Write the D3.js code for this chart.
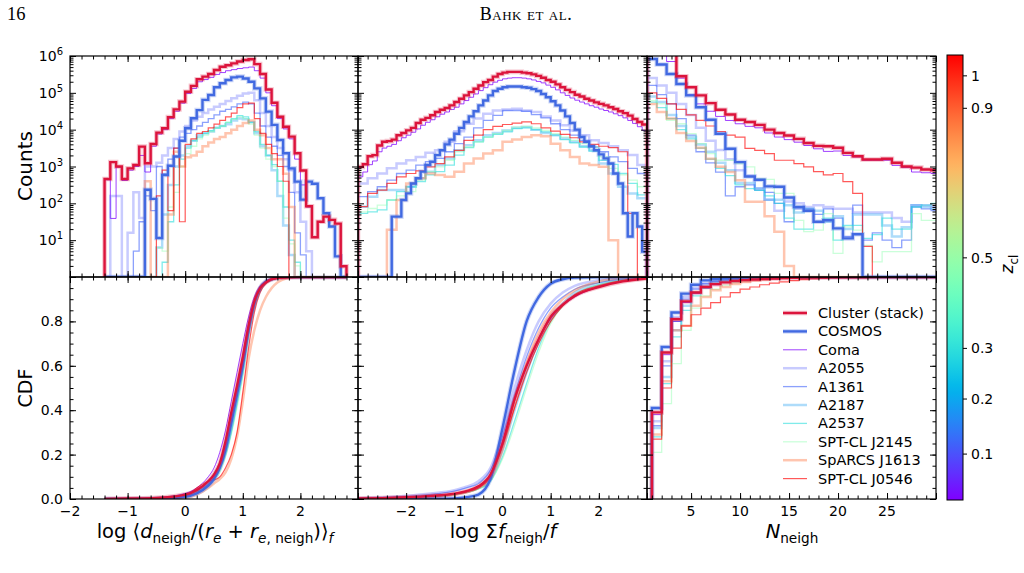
<!DOCTYPE html>
<html>
<head>
<meta charset="utf-8">
<script src="https://cdn.jsdelivr.net/npm/d3@7"></script>
<style>
body { margin: 0; background: #fff; }
text { font-family: "DejaVu Sans", sans-serif; fill: #000; }
</style>
</head>
<body>
<script>
// clusters, coloured by redshift
var clusterNames = ["Coma", "A2055", "A1361", "A2187", "A2537", "SPT-CL J2145", "SpARCS J1613", "SPT-CL J0546"];
var clusterZ = [0.023, 0.102, 0.117, 0.183, 0.295, 0.48, 0.871, 1.067];
var zTicks = [0.1, 0.2, 0.3, 0.5, 0.9, 1];

// tick labels
var distTicks = [-2, -1, 0, 1, 2];
var fluxTicks = [-2, -1, 0, 1, 2];
var nTicks = [5, 10, 15, 20, 25];
var countExp = [1, 2, 3, 4, 5, 6];
var cdfTicks = [0, 0.2, 0.4, 0.6, 0.8];

// ---- histograms, log10(counts) per bin (0 = empty bin) ----
// log <d_neigh/(r_e+r_e,neigh)>_f : 0.1 wide bins starting at -1.4
var distStart = -1.4;
var distCluster = [2.66, 3.12, 3.0, 2.66, 2.95, 3.04, 3.54, 3.09, 3.61, 3.92, 4.04, 4.34, 4.55, 4.76, 5.03, 5.19, 5.37, 5.44, 5.51, 5.62, 5.71, 5.75, 5.80, 5.85, 5.89, 5.91, 5.78, 5.51, 5.09, 4.73, 4.35, 4.08, 3.81, 3.36, 2.89, 1.92, 1.08, 1.5, 1.64, 1.55, 1.45, 0.29];
var distCosmos = [0, 0, 0, 0, 0, 0, 0, 2.37, 2.12, 1.06, 2.77, 3.02, 3.27, 3.70, 4.04, 4.31, 4.53, 4.81, 4.94, 5.15, 5.26, 5.35, 5.42, 5.44, 5.39, 5.30, 5.12, 4.85, 4.49, 4.13, 3.72, 3.36, 2.95, 2.59, 2.10, 2.59, 2.53, 2.14, 1.73, 1.37, 0.56, 0];
var distOthers = [
  [2.64, 1.59, 2.98, 2.62, 2.9, 3.0, 3.3, 2.85, 3.55, 3.88, 4.0, 4.3, 4.5, 4.72, 4.98, 5.12, 5.3, 5.36, 5.42, 5.5, 5.55, 5.6, 5.63, 5.66, 5.68, 5.7, 5.6, 5.4, 5.0, 4.65, 4.3, 4.02, 3.75, 3.2, 2.5, 1.9, 1.08, 1.5, 1.64, 1.55, 1.45, 0.29],
  [0, 2.2, 2.2, 0, 1.2, 2.3, 1.6, 3.0, 3.0, 3.1, 3.3, 3.5, 3.75, 3.95, 4.1, 4.25, 4.35, 4.45, 4.55, 4.62, 4.7, 4.78, 4.85, 4.92, 4.98, 5.0, 4.8, 4.45, 4.1, 3.8, 3.5, 3.2, 2.9, 2.3, 1.5, 0.7, 0, 0, 0, 0, 0, 0],
  [0, 0, 0, 0, 0, 0.7, 1.5, 2.2, 1.8, 3.0, 2.8, 3.2, 3.5, 3.8, 3.9, 4.0, 4.1, 4.2, 4.3, 4.4, 4.5, 4.55, 4.62, 4.7, 4.75, 4.7, 4.45, 4.1, 3.8, 3.55, 3.3, 3.0, 2.3, 1.2, 0.6, 0, 0, 0, 0, 0, 0, 0],
  [0, 0, 0, 0, 0, 0, 0, 0, 0, 0.8, 1.7, 2.5, 3.0, 3.3, 3.55, 3.7, 3.85, 3.9, 3.95, 4.05, 4.1, 4.15, 4.25, 4.3, 4.28, 4.2, 3.9, 3.55, 3.3, 2.9, 2.2, 1.4, 0.6, 0, 0, 0, 0, 0, 0, 0, 0, 0],
  [0, 0, 0, 0, 0, 0, 0, 0, 0, 0, 0.4, 1.5, 2.5, 3.2, 3.5, 3.7, 3.8, 3.9, 3.97, 4.05, 4.1, 4.2, 4.3, 4.38, 4.35, 4.2, 3.95, 3.6, 3.3, 3.05, 2.6, 1.9, 1.0, 0.4, 0, 0, 0, 0, 0, 0, 0, 0],
  [0, 0, 0, 0, 0, 0, 0, 0, 0, 0.8, 0.7, 1.9, 2.3, 3.0, 3.35, 3.55, 3.75, 3.85, 3.95, 4.05, 4.1, 4.2, 4.28, 4.35, 4.3, 4.15, 3.85, 3.5, 3.2, 3.0, 2.6, 1.6, 0.9, 0.3, 0, 0, 0, 0, 0, 0, 0, 0],
  [0, 0, 0, 0, 0, 0, 0, 2.6, 0, 0, 0, 1.7, 3.4, 3.0, 3.25, 3.3, 3.4, 3.55, 3.65, 3.75, 3.8, 3.9, 4.0, 4.1, 4.18, 4.25, 4.0, 3.85, 3.5, 3.2, 3.2, 2.8, 1.9, 0, 0, 0, 0, 0, 0, 0, 0, 0],
  [0, 0, 0, 0, 0, 0, 0, 0, 0, 2.2, 2.9, 1.8, 3.5, 1.5, 3.6, 3.75, 3.9, 3.95, 4.05, 4.15, 4.25, 4.35, 4.45, 4.6, 4.7, 4.72, 4.3, 3.9, 3.6, 3.35, 3.0, 2.6, 0, 0, 0, 0, 0, 0, 0, 0, 0, 0]
];

// log Sum f_neigh / f : bins cover -3..3 (60 bins, or 30 for the thin cluster lines)
var fluxCluster = [2.99, 3.06, 3.28, 3.31, 3.57, 3.67, 3.69, 3.73, 3.85, 3.91, 3.98, 4.05, 4.18, 4.27, 4.32, 4.39, 4.48, 4.54, 4.59, 4.66, 4.75, 4.84, 4.93, 5.02, 5.11, 5.20, 5.29, 5.35, 5.44, 5.51, 5.55, 5.57, 5.57, 5.57, 5.55, 5.53, 5.50, 5.46, 5.41, 5.35, 5.30, 5.23, 5.15, 5.08, 5.02, 4.95, 4.90, 4.84, 4.79, 4.74, 4.70, 4.66, 4.61, 4.56, 4.50, 4.45, 4.38, 4.29, 4.21, 4.14];
var fluxCosmos = [0, 0, 0, 0, 0, 0, 0, 1.64, 1.64, 2.09, 2.27, 2.54, 2.68, 2.86, 3.04, 3.13, 3.31, 3.44, 3.60, 3.73, 3.89, 4.05, 4.21, 4.36, 4.50, 4.66, 4.79, 4.93, 5.05, 5.11, 5.15, 5.17, 5.17, 5.17, 5.15, 5.14, 5.10, 5.05, 4.97, 4.88, 4.77, 4.66, 4.52, 4.36, 4.18, 4.0, 3.80, 3.67, 3.55, 3.44, 3.33, 3.22, 3.08, 2.81, 2.54, 1.73, 1.10, 1.73, 1.37, 0.69];
var fluxOthers = [
  [2.72, 2.85, 3.05, 3.15, 3.4, 3.5, 3.55, 3.6, 3.7, 3.78, 3.85, 3.93, 4.02, 4.12, 4.2, 4.27, 4.35, 4.42, 4.48, 4.55, 4.61, 4.7, 4.79, 4.88, 4.97, 5.06, 5.14, 5.22, 5.29, 5.34, 5.38, 5.4, 5.41, 5.41, 5.4, 5.38, 5.35, 5.31, 5.27, 5.21, 5.15, 5.08, 5.0, 4.93, 4.86, 4.8, 4.75, 4.7, 4.65, 4.61, 4.56, 4.52, 4.48, 4.43, 4.38, 4.32, 4.25, 4.17, 4.08, 3.98],
  [2.54, 2.68, 2.81, 2.95, 3.08, 3.17, 3.26, 3.37, 3.44, 3.67, 3.96, 4.16, 4.30, 4.43, 4.52, 4.55, 4.57, 4.52, 4.48, 4.36, 4.25, 4.12, 3.98, 3.85, 3.71, 3.64, 3.55, 3.44, 3.31, 3.04],
  [2.18, 2.32, 2.45, 2.63, 2.81, 2.90, 3.04, 3.13, 3.22, 3.40, 3.62, 3.80, 4.05, 4.25, 4.39, 4.52, 4.52, 4.50, 4.41, 4.32, 4.16, 4.0, 3.85, 3.71, 3.53, 3.40, 3.26, 3.13, 2.95, 2.81],
  [1.91, 2.18, 2.36, 2.36, 2.36, 2.45, 2.68, 2.86, 3.04, 3.22, 3.44, 3.58, 3.71, 3.85, 3.91, 3.98, 4.05, 4.07, 4.0, 3.91, 3.85, 3.76, 3.67, 3.55, 3.44, 3.08, 2.81, 2.45, 2.27, 2.14],
  [1.73, 1.77, 1.82, 2.09, 2.32, 2.45, 2.59, 2.77, 2.86, 3.04, 3.31, 3.51, 3.67, 3.80, 3.87, 3.94, 4.03, 4.05, 4.0, 3.94, 3.85, 3.73, 3.64, 3.53, 3.42, 3.17, 3.06, 2.81, 2.54, 2.23],
  [1.77, 1.86, 1.95, 2.09, 2.20, 2.32, 2.63, 2.86, 2.99, 3.17, 3.40, 3.53, 3.67, 3.80, 3.89, 3.98, 4.07, 4.09, 4.05, 3.98, 3.89, 3.80, 3.71, 3.62, 3.53, 3.26, 2.95, 2.77, 2.63, 2.45],
  [0, 0, 0, 1.28, 2.09, 2.54, 2.68, 2.81, 2.77, 2.72, 2.86, 3.08, 3.22, 3.35, 3.44, 3.67, 3.73, 3.80, 3.85, 3.82, 3.62, 3.44, 3.26, 3.08, 3.04, 2.99, 1.0, 0, 0, 0],
  [1.91, 2.27, 2.36, 2.54, 2.72, 2.81, 2.88, 2.99, 3.08, 3.26, 3.44, 3.71, 3.85, 4.0, 4.09, 4.14, 4.18, 4.21, 4.16, 4.05, 3.96, 3.87, 3.78, 3.67, 3.60, 3.55, 3.51, 3.40, 1.73, 0]
];

// N_neigh = 1..30
var nCluster = [6.4, 6.2, 6.05, 5.45, 5.15, 4.93, 4.72, 4.54, 4.41, 4.27, 4.21, 4.13, 4.0, 3.91, 3.84, 3.75, 3.64, 3.56, 3.55, 3.51, 3.37, 3.28, 3.19, 3.19, 3.21, 3.10, 3.0, 2.97, 2.92, 2.90];
var nCosmos = [5.92, 5.77, 5.51, 5.24, 4.93, 4.61, 4.27, 3.89, 3.48, 3.12, 2.73, 2.64, 2.46, 2.45, 2.16, 1.90, 1.80, 1.50, 1.54, 1.32, 1.05, 1.16, 0, 0, 0, 0, 0, 0, 0, 0];
var nOthers = [
  [6.35, 6.1, 5.85, 5.40, 4.95, 4.70, 4.50, 4.36, 4.25, 4.16, 4.09, 4.05, 3.91, 3.80, 3.73, 3.66, 3.57, 3.48, 3.41, 3.42, 3.30, 3.26, 3.17, 3.17, 3.17, 3.03, 2.97, 2.85, 2.83, 2.81],
  [5.4, 5.2, 5.0, 4.7, 4.4, 4.05, 3.7, 3.45, 3.2, 2.9, 2.75, 2.4, 2.1, 1.8, 2.05, 2.0, 1.9, 1.95, 1.9, 1.85, 1.85, 1.75, 1.75, 1.75, 1.75, 1.6, 1.5, 1.95, 1.95, 1.9],
  [5.2, 4.95, 4.7, 4.3, 3.85, 3.4, 3.1, 2.85, 2.2, 2.45, 2.5, 2.35, 2.3, 2.0, 1.5, 1.85, 1.85, 1.7, 1.85, 1.6, 1.1, 1.95, 1.0, 1.2, 1.0, 0.8, 1.0, 1.9, 1.85, 1.8],
  [4.9, 4.75, 4.4, 4.1, 3.8, 3.6, 3.4, 3.1, 2.9, 2.55, 2.55, 2.4, 2.1, 2.1, 1.95, 1.75, 1.85, 1.8, 1.5, 1.65, 1.3, 1.7, 1.7, 1.7, 1.4, 1.1, 1.35, 1.95, 1.9, 1.85],
  [4.75, 4.6, 4.3, 4.0, 3.75, 3.5, 3.2, 2.95, 2.75, 2.5, 2.4, 2.35, 2.2, 2.0, 1.6, 1.3, 1.3, 1.5, 1.6, 1.0, 1.4, 1.4, 1.05, 1.15, 1.6, 1.3, 1.3, 1.9, 1.95, 2.0],
  [4.79, 4.70, 4.25, 4.16, 3.89, 3.62, 3.35, 3.17, 3.17, 3.08, 2.99, 2.67, 2.65, 2.27, 2.27, 1.54, 1.23, 1.27, 1.72, 0.64, 1.36, 1.27, 0.86, 0.41, 0.69, 0.69, 0.69, 1.72, 1.54, 1.54],
  [4.70, 4.48, 4.30, 3.91, 3.69, 3.51, 3.21, 2.99, 2.85, 2.63, 2.04, 2.04, 1.65, 1.23, 0.30, 0, 0, 0, 0, 0, 0, 0, 0, 0, 0, 0, 0, 0, 0, 0],
  [5.0, 4.85, 4.7, 4.55, 4.4, 4.25, 4.1, 3.95, 3.85, 3.80, 3.49, 3.44, 3.35, 3.17, 3.17, 3.08, 2.99, 2.86, 2.77, 2.81, 2.59, 2.27, 0.83, 0, 0, 0, 0, 0, 0, 0]
];

// ---- cumulative distributions ----
var cdfDistX = [-1.4, -1.0, -0.5, 0, 0.2, 0.4, 0.5, 0.6, 0.7, 0.8, 0.9, 1.0, 1.1, 1.2, 1.3, 1.4, 1.5, 1.6, 1.8, 2.0, 2.8];
var cdfDistCluster = [0, 0.002, 0.005, 0.02, 0.04, 0.08, 0.11, 0.16, 0.26, 0.39, 0.51, 0.64, 0.78, 0.89, 0.95, 0.975, 0.99, 0.995, 0.999, 1, 1];
var cdfDistCosmos = [0, 0, 0.001, 0.01, 0.025, 0.06, 0.09, 0.14, 0.22, 0.34, 0.47, 0.60, 0.76, 0.88, 0.95, 0.98, 0.99, 0.997, 1, 1, 1];
var cdfDistOthers = [
  [0, 0.002, 0.006, 0.025, 0.05, 0.10, 0.14, 0.21, 0.31, 0.44, 0.57, 0.70, 0.82, 0.91, 0.96, 0.98, 0.99, 0.996, 0.999, 1, 1],
  [0, 0.001, 0.004, 0.02, 0.04, 0.08, 0.11, 0.16, 0.25, 0.37, 0.50, 0.63, 0.78, 0.89, 0.95, 0.98, 0.99, 0.996, 1, 1, 1],
  [0, 0, 0.003, 0.015, 0.035, 0.07, 0.10, 0.15, 0.23, 0.35, 0.48, 0.62, 0.77, 0.88, 0.95, 0.98, 0.99, 0.996, 1, 1, 1],
  [0, 0, 0.002, 0.012, 0.03, 0.065, 0.095, 0.14, 0.21, 0.32, 0.45, 0.59, 0.75, 0.87, 0.94, 0.975, 0.99, 0.996, 1, 1, 1],
  [0, 0, 0.002, 0.01, 0.03, 0.06, 0.09, 0.13, 0.20, 0.30, 0.43, 0.57, 0.74, 0.87, 0.94, 0.975, 0.99, 0.996, 1, 1, 1],
  [0, 0, 0.002, 0.01, 0.03, 0.06, 0.085, 0.12, 0.19, 0.29, 0.41, 0.55, 0.73, 0.86, 0.94, 0.975, 0.99, 0.996, 1, 1, 1],
  [0, 0, 0.001, 0.005, 0.02, 0.05, 0.07, 0.09, 0.12, 0.18, 0.28, 0.44, 0.63, 0.76, 0.85, 0.91, 0.95, 0.975, 0.995, 1, 1],
  [0, 0, 0.001, 0.008, 0.05, 0.08, 0.085, 0.10, 0.14, 0.20, 0.30, 0.48, 0.68, 0.84, 0.93, 0.97, 0.985, 0.995, 1, 1, 1]
];

var cdfFluxX = [-3, -2.5, -2, -1.5, -1, -0.75, -0.5, -0.25, 0, 0.25, 0.5, 0.75, 1.0, 1.25, 1.5, 2.0, 2.5, 3];
var cdfFluxCluster = [0.002, 0.004, 0.008, 0.014, 0.024, 0.035, 0.057, 0.11, 0.25, 0.45, 0.60, 0.72, 0.82, 0.875, 0.915, 0.955, 0.98, 0.993];
var cdfFluxCosmos = [0, 0, 0, 0.001, 0.003, 0.008, 0.02, 0.09, 0.32, 0.58, 0.80, 0.91, 0.97, 0.99, 0.997, 1, 1, 1];
var cdfFluxOthers = [
  [0.002, 0.004, 0.008, 0.014, 0.024, 0.034, 0.055, 0.11, 0.26, 0.44, 0.60, 0.72, 0.81, 0.87, 0.91, 0.955, 0.982, 0.994],
  [0.003, 0.008, 0.015, 0.025, 0.04, 0.055, 0.08, 0.14, 0.30, 0.50, 0.67, 0.80, 0.88, 0.93, 0.96, 0.985, 0.995, 1],
  [0.002, 0.006, 0.012, 0.02, 0.035, 0.05, 0.07, 0.13, 0.28, 0.47, 0.64, 0.77, 0.86, 0.91, 0.945, 0.975, 0.99, 0.998],
  [0.001, 0.003, 0.006, 0.012, 0.022, 0.033, 0.05, 0.09, 0.22, 0.40, 0.57, 0.71, 0.82, 0.88, 0.93, 0.97, 0.99, 0.998],
  [0.001, 0.002, 0.005, 0.01, 0.02, 0.03, 0.045, 0.08, 0.19, 0.35, 0.52, 0.68, 0.80, 0.87, 0.92, 0.965, 0.985, 0.996],
  [0.001, 0.002, 0.005, 0.01, 0.02, 0.03, 0.045, 0.08, 0.18, 0.33, 0.50, 0.66, 0.79, 0.87, 0.92, 0.965, 0.985, 0.996],
  [0, 0.001, 0.004, 0.01, 0.02, 0.03, 0.05, 0.09, 0.22, 0.42, 0.61, 0.75, 0.84, 0.9, 0.94, 0.98, 0.995, 1],
  [0.001, 0.003, 0.006, 0.012, 0.022, 0.033, 0.05, 0.10, 0.24, 0.41, 0.57, 0.70, 0.80, 0.87, 0.92, 0.96, 0.985, 0.996]
];

// N_neigh = 1..30
var cdfNCluster = [0.39, 0.66, 0.81, 0.89, 0.93, 0.955, 0.968, 0.976, 0.982, 0.986, 0.989, 0.991, 0.993, 0.995, 0.996, 0.997, 0.998, 0.998, 0.999, 0.999, 0.999, 0.999, 1, 1, 1, 1, 1, 1, 1, 1];
var cdfNCosmos = [0.41, 0.685, 0.84, 0.925, 0.965, 0.985, 0.99, 0.994, 0.996, 0.998, 0.999, 0.999, 1, 1, 1, 1, 1, 1, 1, 1, 1, 1, 1, 1, 1, 1, 1, 1, 1, 1];
var cdfNOthers = [
  [0.38, 0.65, 0.80, 0.885, 0.925, 0.95, 0.965, 0.975, 0.98, 0.985, 0.988, 0.99, 0.992, 0.994, 0.995, 0.996, 0.997, 0.998, 0.998, 0.999, 0.999, 0.999, 1, 1, 1, 1, 1, 1, 1, 1],
  [0.35, 0.62, 0.82, 0.91, 0.95, 0.97, 0.98, 0.986, 0.99, 0.993, 0.995, 0.996, 0.997, 0.998, 0.998, 0.999, 0.999, 0.999, 0.999, 1, 1, 1, 1, 1, 1, 1, 1, 1, 1, 1],
  [0.33, 0.60, 0.80, 0.90, 0.945, 0.97, 0.98, 0.987, 0.99, 0.993, 0.995, 0.996, 0.997, 0.998, 0.998, 0.999, 0.999, 0.999, 1, 1, 1, 1, 1, 1, 1, 1, 1, 1, 1, 1],
  [0.32, 0.55, 0.76, 0.87, 0.93, 0.96, 0.975, 0.984, 0.989, 0.992, 0.994, 0.996, 0.997, 0.998, 0.998, 0.999, 0.999, 0.999, 1, 1, 1, 1, 1, 1, 1, 1, 1, 1, 1, 1],
  [0.28, 0.52, 0.73, 0.85, 0.915, 0.95, 0.968, 0.978, 0.985, 0.99, 0.993, 0.995, 0.996, 0.997, 0.998, 0.999, 0.999, 0.999, 1, 1, 1, 1, 1, 1, 1, 1, 1, 1, 1, 1],
  [0.21, 0.43, 0.61, 0.76, 0.86, 0.915, 0.945, 0.963, 0.975, 0.983, 0.988, 0.991, 0.994, 0.996, 0.997, 0.998, 0.999, 0.999, 1, 1, 1, 1, 1, 1, 1, 1, 1, 1, 1, 1],
  [0.29, 0.53, 0.76, 0.78, 0.87, 0.91, 0.94, 0.955, 0.968, 0.977, 0.984, 0.989, 0.993, 0.996, 0.998, 0.999, 1, 1, 1, 1, 1, 1, 1, 1, 1, 1, 1, 1, 1, 1],
  [0.27, 0.50, 0.68, 0.78, 0.83, 0.86, 0.885, 0.91, 0.93, 0.945, 0.955, 0.965, 0.972, 0.978, 0.984, 0.988, 0.991, 0.994, 0.996, 0.997, 0.998, 0.999, 1, 1, 1, 1, 1, 1, 1, 1]
];

// ---------------------------------------------------------------------------

var svg = d3.select("body").append("svg")
    .attr("width", 1024)
    .attr("height", 573);
svg.append("rect").attr("width", 1024).attr("height", 573).attr("fill", "#fff");

var xDist = d3.scaleLinear().domain([-2, 3]).range([70, 358]);
var xFlux = d3.scaleLinear().domain([-3, 3]).range([358, 647]);
var xN = d3.scaleLinear().domain([0.5, 30]).range([647, 936]);
var yCount = d3.scaleLog().domain([1, 1e6]).range([277, 56]);
var yCdf = d3.scaleLinear().domain([0, 1]).range([499, 277]);

// matplotlib "rainbow", colour linear in log(1+z)
var zExtent = d3.extent(clusterZ);
var zNorm = d3.scaleLinear().domain([Math.log1p(zExtent[0]), Math.log1p(zExtent[1])]).range([0, 1]);
function rainbow(t) {
  var r = Math.min(1, Math.abs(2 * t - 0.5)),
      g = Math.sin(Math.PI * t),
      b = Math.cos(Math.PI * t / 2);
  return d3.rgb(r * 255, g * 255, b * 255).formatHex();
}
function zColor(z) { return rainbow(zNorm(Math.log1p(z))); }

var otherWidth = [1, 2.5, 1.3, 2.5, 1.3, 1.3, 2.5, 1.2];
var otherAlpha = [0.75, 0.3, 0.6, 0.35, 0.6, 0.45, 0.4, 0.65];
var otherStyles = clusterNames.map(function(n, i) {
  return {color: zColor(clusterZ[i]), width: otherWidth[i], alpha: otherAlpha[i]};
});
var clusterStyle = {color: "#dc143c", width: 2.4, alpha: 1, halo: true};
var cosmosStyle = {color: "#4169e1", width: 2.4, alpha: 1, halo: true};

function panel(id, x, y) {
  svg.append("clipPath").attr("id", id)
    .append("rect")
      .attr("x", x.range()[0]).attr("y", y.range()[1])
      .attr("width", x.range()[1] - x.range()[0])
      .attr("height", y.range()[0] - y.range()[1]);
  return svg.append("g").attr("clip-path", "url(#" + id + ")");
}

function drawSeries(g, pts, line, s) {
  if (s.halo) {
    g.append("path").datum(pts).attr("d", line)
      .attr("fill", "none").attr("stroke", s.color)
      .attr("stroke-width", s.width + 2.2).attr("stroke-opacity", 0.25);
  }
  g.append("path").datum(pts).attr("d", line)
    .attr("fill", "none").attr("stroke", s.color)
    .attr("stroke-width", s.width).attr("stroke-opacity", s.alpha);
}

// outline of a step histogram
function histPts(vals, start, width) {
  var n = vals.length;
  var pts = [[start, 0]];
  vals.forEach(function(v, i) { pts.push([start + i * width, v]); });
  pts.push([start + n * width, vals[n - 1]]);
  pts.push([start + n * width, 0]);
  return pts;
}
function histLine(x) {
  return d3.line()
    .x(function(d) { return x(d[0]); })
    .y(function(d) { return yCount(Math.pow(10, d[1])); })
    .curve(d3.curveStepAfter);
}
function cdfLine(x, curve) {
  return d3.line()
    .x(function(d) { return x(d[0]); })
    .y(function(d) { return yCdf(d[1]); })
    .curve(curve);
}
function zipX(xs, vals) { return xs.map(function(x, i) { return [x, vals[i]]; }); }
function nSteps(vals) { return [[1, 0]].concat(vals.map(function(v, i) { return [i + 1, v]; })); }

// ---- top row: histograms ----
var g = panel("clipA", xDist, yCount);
distOthers.forEach(function(v, i) { drawSeries(g, histPts(v, distStart, 0.1), histLine(xDist), otherStyles[i]); });
drawSeries(g, histPts(distCosmos, distStart, 0.1), histLine(xDist), cosmosStyle);
drawSeries(g, histPts(distCluster, distStart, 0.1), histLine(xDist), clusterStyle);

g = panel("clipB", xFlux, yCount);
fluxOthers.forEach(function(v, i) { drawSeries(g, histPts(v, -3, 6 / v.length), histLine(xFlux), otherStyles[i]); });
drawSeries(g, histPts(fluxCosmos, -3, 6 / fluxCosmos.length), histLine(xFlux), cosmosStyle);
drawSeries(g, histPts(fluxCluster, -3, 6 / fluxCluster.length), histLine(xFlux), clusterStyle);

g = panel("clipC", xN, yCount);
nOthers.forEach(function(v, i) { drawSeries(g, histPts(v, 0.5, 1), histLine(xN), otherStyles[i]); });
drawSeries(g, histPts(nCosmos, 0.5, 1), histLine(xN), cosmosStyle);
drawSeries(g, histPts(nCluster, 0.5, 1), histLine(xN), clusterStyle);

// ---- bottom row: CDFs ----
g = panel("clipD", xDist, yCdf);
var smoothD = cdfLine(xDist, d3.curveMonotoneX);
cdfDistOthers.forEach(function(v, i) { drawSeries(g, zipX(cdfDistX, v), smoothD, otherStyles[i]); });
drawSeries(g, zipX(cdfDistX, cdfDistCosmos), smoothD, cosmosStyle);
drawSeries(g, zipX(cdfDistX, cdfDistCluster), smoothD, clusterStyle);

g = panel("clipE", xFlux, yCdf);
var smoothF = cdfLine(xFlux, d3.curveMonotoneX);
cdfFluxOthers.forEach(function(v, i) { drawSeries(g, zipX(cdfFluxX, v), smoothF, otherStyles[i]); });
drawSeries(g, zipX(cdfFluxX, cdfFluxCosmos), smoothF, cosmosStyle);
drawSeries(g, zipX(cdfFluxX, cdfFluxCluster), smoothF, clusterStyle);

g = panel("clipF", xN, yCdf);
var stepN = cdfLine(xN, d3.curveStepAfter);
cdfNOthers.forEach(function(v, i) { drawSeries(g, nSteps(v), stepN, otherStyles[i]); });
drawSeries(g, nSteps(cdfNCosmos), stepN, cosmosStyle);
drawSeries(g, nSteps(cdfNCluster), stepN, clusterStyle);

// ---- ticks (pointing inward, all four sides) and frames ----
function strip(sel) {
  sel.select(".domain").remove();
  sel.selectAll("line").attr("stroke", "#000").attr("stroke-width", 1);
}
function addTicks(x, y, xMajor, xMinor, yMajor, yMinor) {
  var left = x.range()[0], right = x.range()[1], top = y.range()[1], bottom = y.range()[0];
  var ax = svg.append("g");
  [[d3.axisBottom, bottom], [d3.axisTop, top]].forEach(function(a) {
    ax.append("g").attr("transform", "translate(0," + a[1] + ")")
      .call(a[0](x).tickValues(xMajor).tickSize(-6).tickFormat("")).call(strip);
    ax.append("g").attr("transform", "translate(0," + a[1] + ")")
      .call(a[0](x).tickValues(xMinor).tickSize(-3.5).tickFormat("")).call(strip);
  });
  [[d3.axisLeft, left], [d3.axisRight, right]].forEach(function(a) {
    ax.append("g").attr("transform", "translate(" + a[1] + ",0)")
      .call(a[0](y).tickValues(yMajor).tickSize(-6).tickFormat("")).call(strip);
    ax.append("g").attr("transform", "translate(" + a[1] + ",0)")
      .call(a[0](y).tickValues(yMinor).tickSize(-3.5).tickFormat("")).call(strip);
  });
  svg.append("rect")
    .attr("x", left).attr("y", top)
    .attr("width", right - left).attr("height", bottom - top)
    .attr("fill", "none").attr("stroke", "#000").attr("stroke-width", 1.2);
}

var countMajor = [1, 10, 100, 1e3, 1e4, 1e5, 1e6];
var countMinor = [];
countMajor.slice(0, 6).forEach(function(p) { d3.range(2, 10).forEach(function(m) { countMinor.push(m * p); }); });
var cdfMajor = d3.range(0, 1.001, 0.2);
var cdfMinor = d3.range(0, 1.001, 0.05);
var distMinor = d3.range(-2, 3.001, 0.2);
var fluxMinor = d3.range(-3, 3.001, 0.2);
var nMinor = d3.range(1, 31);

addTicks(xDist, yCount, d3.range(-2, 4), distMinor, countMajor, countMinor);
addTicks(xFlux, yCount, d3.range(-3, 4), fluxMinor, countMajor, countMinor);
addTicks(xN, yCount, [5, 10, 15, 20, 25, 30], nMinor, countMajor, countMinor);
addTicks(xDist, yCdf, d3.range(-2, 4), distMinor, cdfMajor, cdfMinor);
addTicks(xFlux, yCdf, d3.range(-3, 4), fluxMinor, cdfMajor, cdfMinor);
addTicks(xN, yCdf, [5, 10, 15, 20, 25, 30], nMinor, cdfMajor, cdfMinor);

// ---- tick labels ----
var lab = svg.append("g").style("font-size", "14px");
function fmtSigned(d) { return d < 0 ? "\u2212" + Math.abs(d) : String(d); }
[[xDist, distTicks], [xFlux, fluxTicks], [xN, nTicks]].forEach(function(p) {
  lab.selectAll(null).data(p[1]).enter().append("text")
    .attr("x", function(d) { return p[0](d); })
    .attr("y", 516)
    .attr("text-anchor", "middle")
    .text(fmtSigned);
});
lab.selectAll(null).data(cdfTicks).enter().append("text")
  .attr("x", 63)
  .attr("y", function(d) { return yCdf(d) + 5; })
  .attr("text-anchor", "end")
  .text(d3.format(".1f"));
var expLab = lab.selectAll(null).data(countExp).enter().append("text")
  .attr("x", 63)
  .attr("y", function(d) { return yCount(Math.pow(10, d)) + 5; })
  .attr("text-anchor", "end");
expLab.append("tspan").text("10");
expLab.append("tspan").attr("dy", -6).style("font-size", "10px").text(function(d) { return d; });

// ---- axis titles ----
function rich(sel, parts, size) {
  var shift = 0;
  parts.forEach(function(p) {
    var s = p.sub ? size * 0.28 : 0;
    sel.append("tspan")
      .attr("dy", s - shift)
      .style("font-size", (p.sub ? size * 0.7 : size) + "px")
      .style("font-style", p.it ? "italic" : "normal")
      .text(p.t);
    shift = s;
  });
}
rich(svg.append("text").attr("x", 215).attr("y", 538).attr("text-anchor", "middle"), [
  {t: "log \u27e8"}, {t: "d", it: true}, {t: "neigh", sub: true}, {t: "/("}, {t: "r", it: true},
  {t: "e", sub: true, it: true}, {t: " + "}, {t: "r", it: true}, {t: "e", sub: true, it: true},
  {t: ", neigh", sub: true}, {t: ")\u27e9"}, {t: "f", sub: true, it: true}
], 19.5);
rich(svg.append("text").attr("x", 503).attr("y", 538).attr("text-anchor", "middle"), [
  {t: "log \u03a3"}, {t: "f", it: true}, {t: "neigh", sub: true}, {t: "/"}, {t: "f", it: true}
], 19.5);
rich(svg.append("text").attr("x", 792).attr("y", 538).attr("text-anchor", "middle"), [
  {t: "N", it: true}, {t: "neigh", sub: true}
], 19.5);
svg.append("text").attr("transform", "translate(32,166) rotate(-90)")
  .attr("text-anchor", "middle").style("font-size", "20px").text("Counts");
svg.append("text").attr("transform", "translate(32,388) rotate(-90)")
  .attr("text-anchor", "middle").style("font-size", "19px").text("CDF");

// ---- legend ----
var legendItems = [{name: "Cluster (stack)", s: clusterStyle}, {name: "COSMOS", s: cosmosStyle}]
  .concat(clusterNames.map(function(n, i) { return {name: n, s: otherStyles[i]}; }));
var leg = svg.append("g");
legendItems.forEach(function(d, i) {
  var y = 313 + i * 18.4;
  drawSeries(leg, [[783, y], [807, y]], d3.line(), d.s);
  leg.append("text").attr("x", 818).attr("y", y + 5).style("font-size", "14.5px").text(d.name);
});

// ---- colour bar ----
var cbY = d3.scaleLinear().domain(zNorm.domain()).range([500, 55]);
var grad = svg.append("defs").append("linearGradient")
  .attr("id", "cbgrad").attr("x1", 0).attr("y1", 1).attr("x2", 0).attr("y2", 0);
d3.range(0, 1.0001, 0.02).forEach(function(t) {
  grad.append("stop").attr("offset", t).attr("stop-color", rainbow(t));
});
svg.append("rect").attr("x", 947).attr("y", 55).attr("width", 16).attr("height", 445)
  .attr("fill", "url(#cbgrad)").attr("stroke", "#000").attr("stroke-width", 1);
var cb = svg.append("g").style("font-size", "14px");
zTicks.forEach(function(z) {
  var y = cbY(Math.log1p(z));
  cb.append("line").attr("x1", 963).attr("x2", 967).attr("y1", y).attr("y2", y).attr("stroke", "#000");
  cb.append("text").attr("x", 971).attr("y", y + 5).text(String(z));
});
rich(svg.append("text").attr("transform", "translate(1013,264) rotate(-90)").attr("text-anchor", "middle"), [
  {t: "z", it: true}, {t: "cl", sub: true}
], 17);

// ---- page header ----
svg.append("text").attr("x", 7).attr("y", 20)
  .style("font-family", "'Liberation Serif', serif").style("font-size", "18.5px").text("16");
svg.append("text").attr("x", 526).attr("y", 20).attr("text-anchor", "middle")
  .style("font-family", "'Liberation Serif', serif").style("font-size", "18px")
  .style("font-variant", "small-caps").style("letter-spacing", "0.5px").text("Bahk et al.");
</script>
</body>
</html>
